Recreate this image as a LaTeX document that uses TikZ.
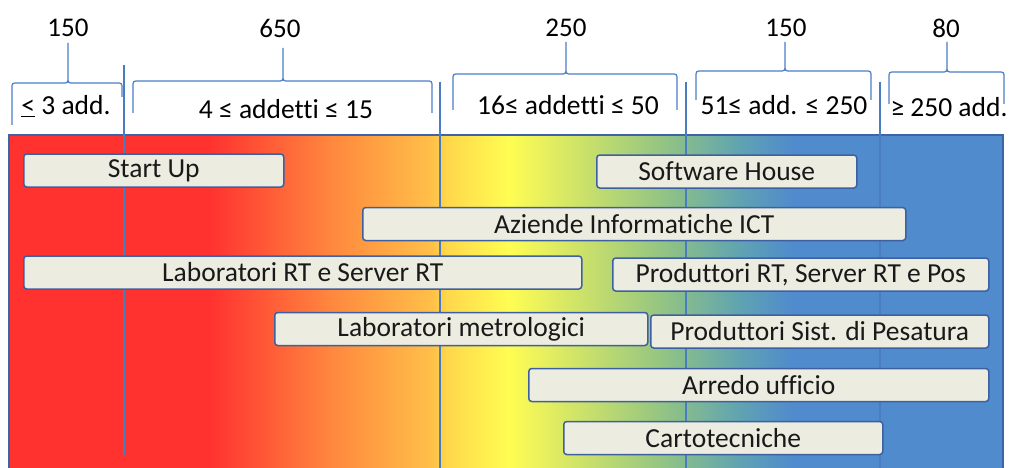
\documentclass[tikz,border=0pt]{standalone}
\usepackage{fontspec}
\setmainfont{Carlito}[Ligatures=NoCommon]
\definecolor{hred}{RGB}{255,50,48}
\definecolor{horange}{RGB}{255,135,62}
\definecolor{hamber}{RGB}{255,192,72}
\definecolor{hgold}{RGB}{255,215,75}
\definecolor{hyellow}{RGB}{255,253,82}
\definecolor{hlime}{RGB}{228,238,95}
\definecolor{hgreen}{RGB}{145,195,132}
\definecolor{hteal}{RGB}{95,163,178}
\definecolor{hblue}{RGB}{80,139,205}
\definecolor{barfill}{RGB}{236,236,224}
\definecolor{barline}{RGB}{62,96,160}
\definecolor{framecol}{RGB}{62,100,165}
\definecolor{divcol}{RGB}{74,124,192}
\definecolor{bracecol}{RGB}{74,126,200}
\begin{document}
\begin{tikzpicture}[x=1pt,y=1pt,yscale=-1,
  bar/.style={draw=barline,fill=barfill,line width=1.5pt,rounded corners=3pt,
    minimum height=33pt,inner sep=0pt,anchor=west,text=black!90,font=\fontsize{27.5}{30}\selectfont},
  numero/.style={inner sep=0pt,font=\fontsize{27}{30}\selectfont},
  fascia/.style={inner sep=0pt,font=\fontsize{27.5}{30}\selectfont},
  graffa/.style={draw=bracecol,line width=1.2pt},
  divisore/.style={draw=divcol,line width=2pt}]

	\clip (0,0) rectangle (1009,468);

	\foreach \xa/\xb/\ca/\cb in {9/210/hred/hred, 210/330/hred/horange, 330/432/horange/hamber,
	  432/446/hamber/hgold, 446/508/hgold/hyellow, 508/548/hyellow/hlime, 548/665/hlime/hgreen,
	  665/740/hgreen/hteal, 740/792/hteal/hblue, 792/1003/hblue/hblue}
	  \shade[left color=\ca,right color=\cb] (\xa,135) rectangle (\xb+0.6,475);
	\draw[framecol,line width=2pt] (9,475) -- (9,135) -- (1003,135) -- (1003,475);

	\foreach \x/\ya/\yb in {124/65/455, 440/82/470, 686/82/470, 880/82/470}
	  \draw[divisore] (\x,\ya) -- (\x,\yb);

	\foreach \xa/\xm/\xb/\yh/\ya/\yb/\yt in {12/68/122/83/125/97/43, 133/283/432/81/113/113/48,
	  453/566/677/74/110/110/42, 696/785/871/71/100/100/42, 889/947/1004/72/104/104/42}
	  \draw[graffa] (\xa,\ya) -- (\xa,\yh+6) .. controls (\xa,\yh) .. (\xa+6,\yh) -- (\xm-6,\yh)
	    .. controls (\xm,\yh) .. (\xm,\yh-6) -- (\xm,\yt)
	    (\xm,\yh-6) .. controls (\xm,\yh) .. (\xm+6,\yh) -- (\xb-6,\yh)
	    .. controls (\xb,\yh) .. (\xb,\yh+6) -- (\xb,\yb);

	\foreach \x/\n [count=\i] in {68/150, 280/650, 566/250, 786/150, 946/80}
	  \node[numero] (cnt\i) at (\x,28) {\n};

	\node[fascia] (fascia1) at (66,106) {\underline{<} 3 add.};
	\node[fascia] (fascia2) at (286,109) {4 ≤ addetti ≤ 15};
	\node[fascia] (fascia3) at (568,105) {16≤ addetti ≤ 50};
	\node[fascia] (fascia4) at (784,105) {51≤ add. ≤ 250};
	\node[fascia] (fascia5) at (949,107) {≥ 250 add.};

	\node[bar,minimum width=260pt] (startup) at (23,170.5) {Start Up};
	\node[bar,minimum width=260pt] (swhouse) at (596,171.5) {Software House};
	\node[bar,minimum width=543pt] (aziende) at (362,224) {Aziende Informatiche ICT};
	\node[bar,minimum width=558pt] (labrt) at (23,272.5) {Laboratori RT e Server RT};
	\node[bar,minimum width=376pt] (prodrt) at (612,274.5) {Produttori RT, Server RT e Pos};
	\node[bar,minimum width=373pt] (labmet) at (274,329) {Laboratori metrologici};
	\node[bar,minimum width=338pt] (prodpes) at (650,331.5) {Produttori Sist. di Pesatura};
	\node[bar,minimum width=460pt] (arredo) at (528,385) {Arredo ufficio};
	\node[bar,minimum width=319pt] (carto) at (563,438) {Cartotecniche};
\end{tikzpicture}
\end{document}
